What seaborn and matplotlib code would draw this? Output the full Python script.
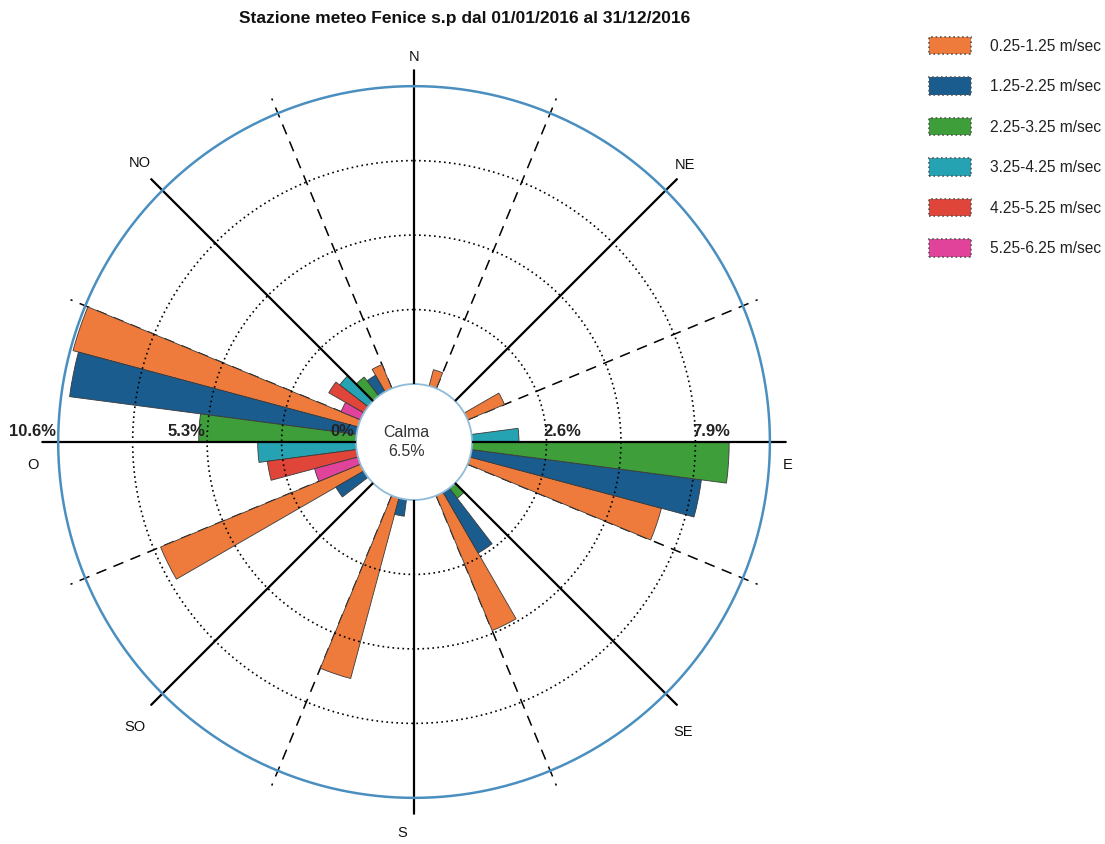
import numpy as np
import pandas as pd
import matplotlib
matplotlib.use("Agg")
import matplotlib.pyplot as plt
import seaborn as sns
from matplotlib.patches import Patch
from matplotlib.transforms import offset_copy

# ---- data -------------------------------------------------------------
directions = ["N", "NE", "E", "SE", "S", "SO", "O", "NO"]
direction_angles = [0, 45, 90, 135, 180, 225, 270, 315]

speed_classes = ["0.25-1.25 m/sec", "1.25-2.25 m/sec", "2.25-3.25 m/sec",
                 "3.25-4.25 m/sec", "4.25-5.25 m/sec", "5.25-6.25 m/sec"]

# frequency (%) per direction, one list per speed class
freq_025_125 = [0.6, 1.42, 7.05, 5.2, 6.65, 7.7, 10.5, 0.92]
freq_125_225 = [0.0, 0.0, 8.25, 2.5, 0.6, 1.15, 10.3, 0.68]
freq_225_325 = [0.0, 0.0, 9.15, 0.46, 0.0, 0.0, 5.6, 0.85]
freq_325_425 = [0.0, 0.0, 1.67, 0.0, 0.0, 0.0, 3.5, 1.27]
freq_425_525 = [0.0, 0.0, 0.0, 0.0, 0.0, 0.0, 3.2, 1.44]
freq_525_625 = [0.0, 0.0, 0.0, 0.0, 0.0, 0.0, 1.6, 0.75]

calm_pct = 6.5

ring_values = [0.0, 2.65, 5.3, 7.95, 10.6]
ring_labels = ["0%", "2.6%", "5.3%", "7.9%", "10.6%"]

title = "Stazione meteo Fenice s.p dal 01/01/2016 al 31/12/2016"

# ---- long table -------------------------------------------------------
all_freqs = [freq_025_125, freq_125_225, freq_225_325,
             freq_325_425, freq_425_525, freq_525_625]
rows = []
for j, (cls, vals) in enumerate(zip(speed_classes, all_freqs)):
    for d, ang, v in zip(directions, direction_angles, vals):
        rows.append({"direction": d, "angle": ang, "speed": cls,
                     "class_idx": j, "freq": v})
df = pd.DataFrame(rows)

# ---- style ------------------------------------------------------------
sns.set_theme(style="white")
plt.rcParams["font.family"] = ["Liberation Sans", "DejaVu Sans"]
palette = sns.color_palette(["#EE7B3C", "#1A5C8E", "#3E9E3A",
                             "#26A3B3", "#E0453A", "#E04399"])

R_MAX = 11.2
SPOKE_END = 11.17
SECTOR = 45.0
SUB = SECTOR / len(speed_classes)

fig = plt.figure(figsize=(11.05, 8.44), dpi=100)
ax = fig.add_axes([0.0374, 0.0347, 0.6746, 0.8832], projection="polar")
ax.set_theta_zero_location("N")
ax.set_theta_direction(-1)
ax.set_ylim(0, R_MAX)
ax.set_rorigin(-2.064)
ax.set_xticks([])
ax.set_yticks([])
ax.grid(False)
ax.spines["polar"].set_visible(False)
ax.spines["inner"].set_edgecolor("#8DBBD9")
ax.spines["inner"].set_linewidth(1.3)

# bars: each direction sector holds the speed classes side by side
for _, row in df[df["freq"] > 0].iterrows():
    center = row["angle"] + SECTOR / 2 - SUB / 2 - SUB * row["class_idx"]
    ax.bar(np.deg2rad(center), row["freq"], width=np.deg2rad(SUB), bottom=0,
           color=palette[row["class_idx"]], edgecolor="#3a3a3a",
           linewidth=0.6, zorder=2)

theta_full = np.linspace(0, 2 * np.pi, 721)

# dotted rings
for r in ring_values[1:-1]:
    ax.plot(theta_full, np.full_like(theta_full, r), color="black",
            lw=1.2, ls=(0, (1, 2.0)), zorder=4)
# outer ring
ax.plot(theta_full, np.full_like(theta_full, ring_values[-1]),
        color="#4A8FC0", lw=1.8, zorder=4)

# spokes: solid on the main directions, dashed on the sector borders
for ang in direction_angles:
    t = np.deg2rad(ang)
    ax.plot([t, t], [0, SPOKE_END], color="black", lw=1.6, zorder=3)
    tb = np.deg2rad(ang + SECTOR / 2)
    ax.plot([tb, tb], [0, SPOKE_END], color="black", lw=1.1,
            ls=(0, (7, 5)), zorder=1)

# direction names
label_pos = {"N": (0.0, 11.64), "NE": (44.4, 11.73), "E": (93.5, 11.27),
             "SE": (137.1, 12.01), "S": (181.8, 11.86), "SO": (224.4, 12.13),
             "O": (266.5, 11.52), "NO": (315.5, 11.85)}
for name in directions:
    a, r = label_pos[name]
    ax.text(np.deg2rad(a), r, name, ha="center", va="center",
            fontsize=10.5, color="#111111")

# ring labels, alternating west / east
lab_trans = offset_copy(ax.transData, fig=fig, x=0, y=2, units="points")
for i, (r, lab) in enumerate(zip(ring_values, ring_labels)):
    if i % 2 == 0:
        ax.text(np.deg2rad(270), r, lab, ha="right", va="bottom",
                fontsize=12, fontweight="bold", color="#222222",
                transform=offset_copy(lab_trans, fig=fig, x=-2, y=0,
                                      units="dots"), zorder=5)
    else:
        ax.text(np.deg2rad(90), r, lab, ha="left", va="bottom",
                fontsize=12, fontweight="bold", color="#222222",
                transform=offset_copy(lab_trans, fig=fig, x=-3, y=0,
                                      units="dots"), zorder=5)

# calm share in the middle
ax.text(0.49, 0.5, f"Calma\n{calm_pct}%", transform=ax.transAxes,
        ha="center", va="center", fontsize=11.5, linespacing=1.3,
        color="#333333")

fig.text(465 / 1105, 1 - 19 / 844, title, ha="center", va="center",
         fontsize=12.5, fontweight="bold", color="#111111")

handles = [Patch(facecolor=palette[j], edgecolor="#555555", linestyle=":",
                 linewidth=1.2, label=lab)
           for j, lab in enumerate(speed_classes)]
fig.legend(handles=handles, loc="upper left",
           bbox_to_anchor=(929 / 1105, 1 - 37 / 844), frameon=False,
           fontsize=11.2, handlelength=2.7, handleheight=1.35,
           labelspacing=1.48, handletextpad=1.22, borderpad=0,
           borderaxespad=0, labelcolor="#222222")

fig.savefig("out.png", dpi=100)
